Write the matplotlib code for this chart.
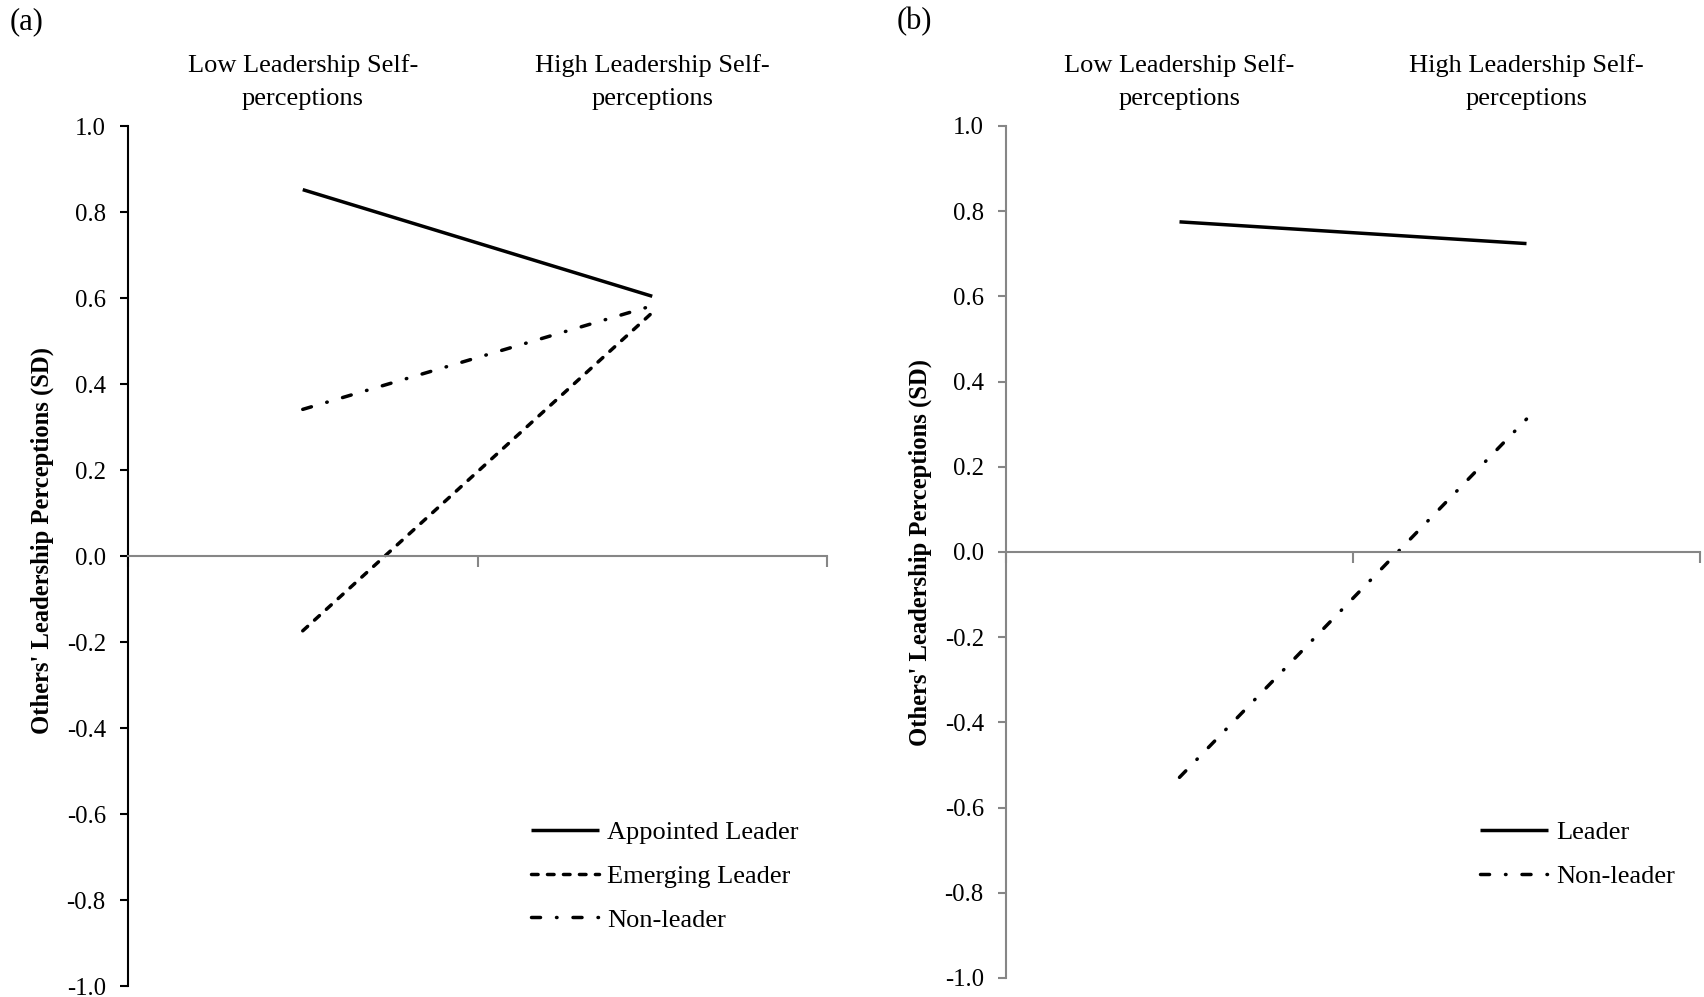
import matplotlib
matplotlib.use("Agg")
import matplotlib.pyplot as plt
from matplotlib.transforms import blended_transform_factory

plt.rcParams['font.family'] = ['Liberation Serif', 'DejaVu Serif']

# ---- data ----
categories = ["Low Leadership Self-\nperceptions", "High Leadership Self-\nperceptions"]
yticks = [-1.0, -0.8, -0.6, -0.4, -0.2, 0.0, 0.2, 0.4, 0.6, 0.8, 1.0]

a_labels = ["Appointed Leader", "Emerging Leader", "Non-leader"]
a_appointed = [0.852, 0.604]
a_emerging = [-0.174, 0.566]
a_nonleader = [0.341, 0.582]

b_labels = ["Leader", "Non-leader"]
b_leader = [0.775, 0.724]
b_nonleader = [-0.529, 0.312]

panel_titles = ["(a)", "(b)"]
ylabel = "Others' Leadership Perceptions (SD)"

# ---- styles ----
W, H = 1704, 997
fig = plt.figure(figsize=(W / 100, H / 100), dpi=100)
LW = 2.5
GRAY = "#868686"
solid = '-'
dashed = (0, (1.9, 2.7))
dashdot = (0, (2.6, 4.6, 0.15, 4.6))
FS = 19
TFS = 17.8


def px_axes(left, right, top, bottom):
    return fig.add_axes([left / W, 1 - bottom / H, (right - left) / W, (bottom - top) / H])


def setup(ax, spine_color, label_xy):
    ax.set_xlim(0, 2)
    ax.set_ylim(-1.0, 1.0)
    for s in ['top', 'right']:
        ax.spines[s].set_visible(False)
    ax.spines['left'].set_color(spine_color)
    ax.spines['left'].set_linewidth(1.5)
    ax.spines['bottom'].set_position(('data', 0))
    ax.spines['bottom'].set_color(GRAY)
    ax.spines['bottom'].set_linewidth(1.5)
    ax.set_xticks([0, 1, 2])
    ax.set_xticklabels([])
    ax.tick_params(axis='x', length=8, width=1.5, color=GRAY, direction='out')
    ax.set_yticks(yticks)
    ax.set_yticklabels([f"{v:.1f}" for v in yticks], fontsize=TFS)
    ax.tick_params(axis='y', length=6, width=1.5, color=spine_color, pad=10)
    ax.set_ylabel(ylabel, fontsize=17.7, fontweight='bold', va='center')
    ax.yaxis.set_label_coords(label_xy[0] / W, 1 - label_xy[1] / H, transform=fig.transFigure)
    tr = blended_transform_factory(ax.transData, fig.transFigure)
    for i, c in enumerate(categories):
        ax.text(i + 0.5, 1 - 82 / H, c, transform=tr, ha='center', va='center',
                fontsize=FS, linespacing=1.6)
    ax.patch.set_visible(False)


pos = [0.5, 1.5]
leg_kw = dict(bbox_transform=fig.transFigure, frameon=False, fontsize=FS, loc='upper left',
              handlelength=2.58, handletextpad=0.3, labelspacing=0.76, borderpad=0,
              borderaxespad=0)

axA = px_axes(128, 827, 126, 986)
setup(axA, 'black', (42, 540))
la = [
    axA.plot(pos, a_appointed, color='black', lw=LW, ls=solid, solid_capstyle='butt')[0],
    axA.plot(pos, a_emerging, color='black', lw=LW, ls=dashed, dash_capstyle='round')[0],
    axA.plot(pos, a_nonleader, color='black', lw=LW, ls=dashdot, dash_capstyle='round')[0],
]
axA.legend(la, a_labels, bbox_to_anchor=(531 / W, 1 - 821 / H), **leg_kw)
fig.text(10 / W, 1 - 22 / H, panel_titles[0], fontsize=22, ha='left', va='center')

axB = px_axes(1006, 1700, 126, 978)
setup(axB, GRAY, (920, 552))
lb = [
    axB.plot(pos, b_leader, color='black', lw=LW, ls=solid, solid_capstyle='butt')[0],
    axB.plot(pos, b_nonleader, color='black', lw=LW, ls=dashdot, dash_capstyle='round')[0],
]
axB.legend(lb, b_labels, bbox_to_anchor=(1480 / W, 1 - 821 / H), **leg_kw)
fig.text(897 / W, 1 - 22 / H, panel_titles[1], fontsize=22, ha='left', va='center')

fig.savefig("out.png", dpi=100)
